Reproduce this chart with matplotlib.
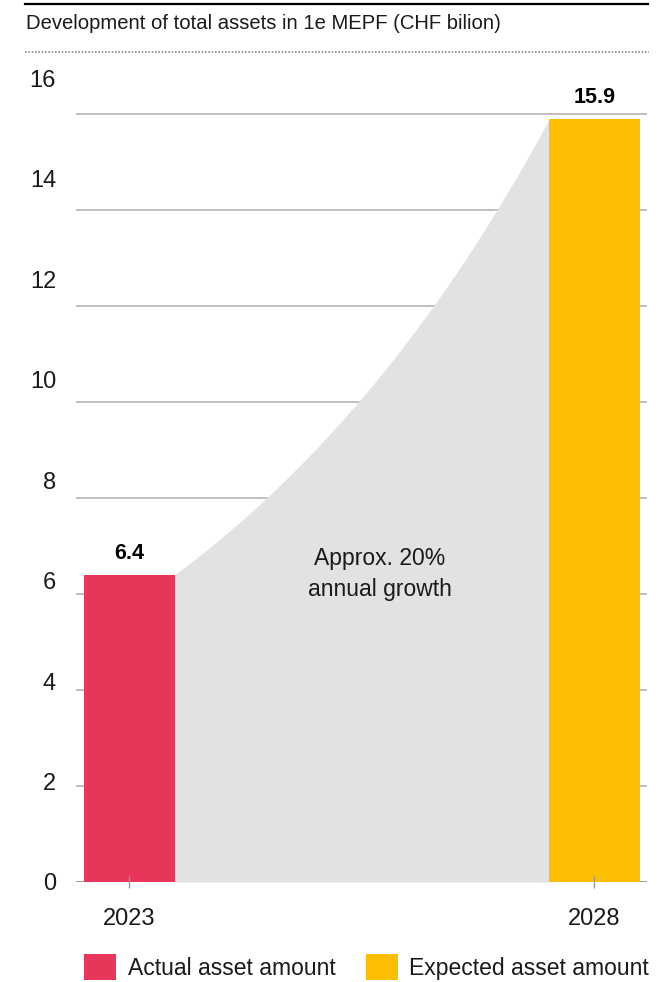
import numpy as np
import matplotlib
matplotlib.use("Agg")
import matplotlib.pyplot as plt
from matplotlib.lines import Line2D
from matplotlib.patches import Patch

# Data

years = [2023, 2028]
assets = [6.4, 15.9]
series_labels = ["Actual asset amount", "Expected asset amount"]
y_ticks = [0, 2, 4, 6, 8, 10, 12, 14, 16]

RED = "#E8365B"
YELLOW = "#FBBE00"
FILL = "#E2E2E2"
GRID = "#B4B4B4"
TEXT = "#1A1A1A"

plt.rcParams["font.family"] = ["Liberation Sans", "DejaVu Sans"]

W, H = 657, 982
fig = plt.figure(figsize=(W / 100, H / 100), dpi=100)


def px(x, y):
    # figure pixel -> figure fraction (y from top)
    return x / W, 1 - y / H


# Plot area
left, right, bottom, top = 76, 647, 882, 60
ax = fig.add_axes([left / W, 1 - bottom / H, (right - left) / W, (bottom - top) / H])

px_per_unit = 48
ax.set_ylim(0, (bottom - top) / px_per_unit)
ax.set_xlim(2022.425, 2028.565)

bar_w = 0.97

# Horizontal grid lines (behind everything)
for v in y_ticks[1:]:
    ax.axhline(v, color=GRID, linewidth=1.2, zorder=0.3)
ax.axhline(0, color="#9A9A9A", linewidth=1.4, zorder=0.3)

# Growth area between the two bars
x0 = years[0] + bar_w / 2
x1 = years[1] - bar_w / 2
t = np.linspace(0, 1, 300)
curve = assets[0] * (assets[1] / assets[0]) ** t
ax.fill_between(x0 + (x1 - x0) * t, 0, curve, color=FILL, linewidth=0, zorder=0.6)

# Bars
ax.bar(years, assets, width=bar_w, color=[RED, YELLOW], zorder=1)

for yr, val in zip(years, assets):
    ax.annotate(f"{val:.1f}", (yr, val), xytext=(0, 11.5), textcoords="offset points",
                ha="center", va="baseline", fontsize=15.5, fontweight="bold", color="black")

ax.text(0.532, 0.375, "Approx. 20%\nannual growth", transform=ax.transAxes,
        ha="center", va="center", fontsize=16.5, color=TEXT, linespacing=1.45)

# Axes styling
for s in ax.spines.values():
    s.set_visible(False)
ax.set_xticks(years)
ax.set_xticklabels([str(y) for y in years])
ax.tick_params(axis="x", direction="inout", length=8.6, width=1, color="#9A9A9A",
               labelsize=17, labelcolor=TEXT, pad=14.5)
ax.set_yticks([])

# Value labels of the y axis
lab = ax.twinx()
lab.set_ylim(0, (bottom - top) / 50.25)
lab.set_yticks(y_ticks)
lab.set_yticklabels([str(v) for v in y_ticks])
lab.tick_params(axis="y", left=False, right=False, labelleft=True, labelright=False,
                length=0, pad=14.4, labelsize=17, labelcolor=TEXT)
for s in lab.spines.values():
    s.set_visible(False)

# Header
fig.add_artist(Line2D([25 / W, 648 / W], [1 - 4.3 / H] * 2, color="black", linewidth=1.6))
fig.text(*px(26, 29), "Development of total assets in 1e MEPF (CHF bilion)",
         ha="left", va="baseline", fontsize=14.6, color=TEXT)
fig.add_artist(Line2D([25 / W, 649 / W], [1 - 52 / H] * 2, color="#8C8C8C",
                      linewidth=1.2, linestyle=(0, (1, 1))))

# Legend
handles = [Patch(facecolor=RED, edgecolor="none"), Patch(facecolor=YELLOW, edgecolor="none")]
fig.legend(handles, series_labels, loc="upper left", bbox_to_anchor=px(84, 954),
           ncol=2, frameon=False, fontsize=16.5, handlelength=1.4, handleheight=1.4,
           handletextpad=0.5, columnspacing=1.32, borderpad=0, borderaxespad=0,
           labelcolor=TEXT)

fig.savefig("out.png", dpi=100)
